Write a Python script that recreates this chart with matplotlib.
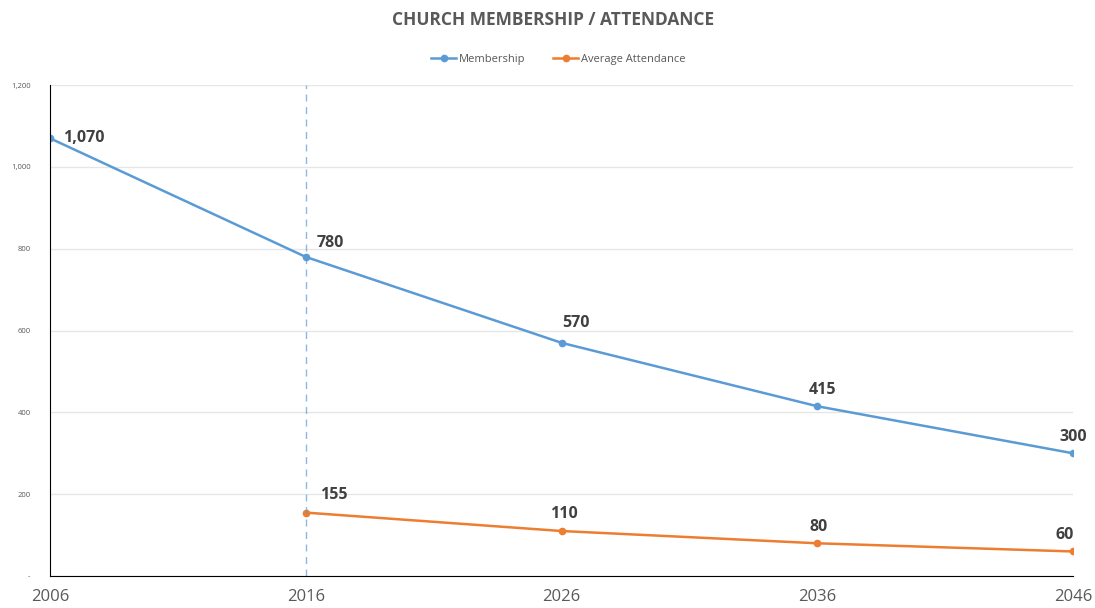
import matplotlib.pyplot as plt
from matplotlib.ticker import FuncFormatter

years = [2006, 2016, 2026, 2036, 2046]
membership = [1070, 780, 570, 415, 300]
att_years = [2016, 2026, 2036, 2046]
attendance = [155, 110, 80, 60]

# label offsets in points (dx, dy)
mem_offsets = [(24, 0), (18, 10), (10, 14), (4, 12), (0, 12)]
att_offsets = [(20, 13), (2, 12), (1, 12), (-6, 12)]

BLUE = '#5B9BD5'
ORANGE = '#ED7D31'
GREY = '#595959'

plt.rcParams['font.family'] = ['Open Sans', 'DejaVu Sans']

fig = plt.figure(figsize=(10.95, 6.08), dpi=100)
ax = fig.add_axes([0.0457, 0.0526, 0.9343, 0.8074])

ax.plot(years, membership, color=BLUE, lw=1.8, marker='o', ms=4.5, label='Membership')
ax.plot(att_years, attendance, color=ORANGE, lw=1.8, marker='o', ms=4.5, label='Average Attendance')
ax.axvline(2016, color=BLUE, lw=1, ls=(0, (5, 4)), alpha=0.7)

for x, y, off in zip(years, membership, mem_offsets):
    ax.annotate(f'{y:,}', (x, y), xytext=off, textcoords='offset points',
                ha='center', va='center', fontsize=11.5, fontweight='bold', color='#404040')
for x, y, off in zip(att_years, attendance, att_offsets):
    ax.annotate(f'{y:,}', (x, y), xytext=off, textcoords='offset points',
                ha='center', va='center', fontsize=11.5, fontweight='bold', color='#404040')

ax.set_xlim(2006, 2046)
ax.set_ylim(0, 1200)
ax.set_xticks(years)
ax.set_yticks(range(0, 1201, 200))
ax.yaxis.set_major_formatter(FuncFormatter(lambda v, p: '-' if v == 0 else f'{int(v):,}'))
ax.tick_params(axis='x', length=0, labelsize=12, colors=GREY, pad=9)
ax.tick_params(axis='y', length=0, labelsize=5.5, colors=GREY, pad=14)
ax.grid(axis='y', color='#E6E6E6', lw=1)
ax.set_axisbelow(True)
for s in ['top', 'right']:
    ax.spines[s].set_visible(False)
ax.spines['left'].set_color('black')
ax.spines['bottom'].set_color('black')

fig.suptitle('CHURCH MEMBERSHIP / ATTENDANCE', x=0.505, y=0.982, fontsize=12.5,
             fontweight='bold', color=GREY)
fig.legend(loc='upper center', bbox_to_anchor=(0.510, 0.928), ncol=2, frameon=False,
           fontsize=8, labelcolor=GREY, handlelength=2.2, columnspacing=2.5,
           handletextpad=0.3)

fig.savefig('out.png', dpi=100)
